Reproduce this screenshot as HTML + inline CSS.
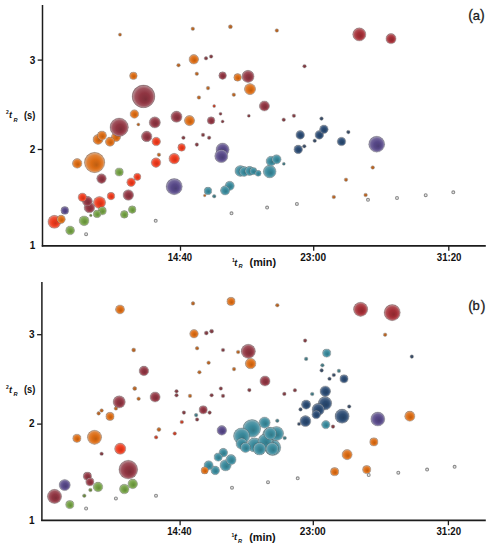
<!DOCTYPE html>
<html><head><meta charset="utf-8"><style>
html,body{margin:0;padding:0;background:#fff;}
body{width:491px;height:550px;overflow:hidden;}
svg{display:block;}
.tk{font-family:"Liberation Sans",sans-serif;font-weight:bold;font-size:10px;fill:#111;}
.ti{font-family:"Liberation Sans",sans-serif;font-weight:bold;font-size:10.2px;fill:#111;}
.lab{font-family:"Liberation Sans",sans-serif;font-size:13px;fill:#1a1a1a;stroke:#1a1a1a;stroke-width:0.3px;}
.par{font-family:"Liberation Sans",sans-serif;font-size:14px;fill:#1a1a1a;stroke:#1a1a1a;stroke-width:0.3px;}
.sup{font-family:"Liberation Sans",sans-serif;font-weight:bold;font-size:5px;fill:#111;}
.sub{font-family:"Liberation Sans",sans-serif;font-weight:bold;font-style:italic;font-size:5.6px;fill:#111;}
.tt{font-family:"Liberation Sans",sans-serif;font-weight:bold;font-style:italic;font-size:9px;fill:#111;}
</style></head><body>
<svg width="491" height="550" viewBox="0 0 491 550">
<defs><radialGradient id="gO" cx="0.5" cy="0.5" r="0.5" fx="0.6" fy="0.63">
<stop offset="0" stop-color="#bd5d11"/><stop offset="0.45" stop-color="#dc6c14"/><stop offset="0.76" stop-color="#e18135"/><stop offset="0.92" stop-color="#d7a177"/><stop offset="1" stop-color="#af7c55"/></radialGradient><radialGradient id="gM" cx="0.5" cy="0.5" r="0.5" fx="0.6" fy="0.63">
<stop offset="0" stop-color="#7c2e39"/><stop offset="0.45" stop-color="#903542"/><stop offset="0.76" stop-color="#a0515c"/><stop offset="0.92" stop-color="#b2868c"/><stop offset="1" stop-color="#8d646a"/></radialGradient><radialGradient id="gRM" cx="0.5" cy="0.5" r="0.5" fx="0.6" fy="0.63">
<stop offset="0" stop-color="#8d282e"/><stop offset="0.45" stop-color="#a42e36"/><stop offset="0.76" stop-color="#b14b52"/><stop offset="0.92" stop-color="#bc8386"/><stop offset="1" stop-color="#966164"/></radialGradient><radialGradient id="gR" cx="0.5" cy="0.5" r="0.5" fx="0.6" fy="0.63">
<stop offset="0" stop-color="#cd3218"/><stop offset="0.45" stop-color="#ee3a1c"/><stop offset="0.76" stop-color="#f0563c"/><stop offset="0.92" stop-color="#df897a"/><stop offset="1" stop-color="#b76658"/></radialGradient><radialGradient id="gG" cx="0.5" cy="0.5" r="0.5" fx="0.6" fy="0.63">
<stop offset="0" stop-color="#638a3a"/><stop offset="0.45" stop-color="#73a044"/><stop offset="0.76" stop-color="#87ad5e"/><stop offset="0.92" stop-color="#a4ba8d"/><stop offset="1" stop-color="#80946a"/></radialGradient><radialGradient id="gP" cx="0.5" cy="0.5" r="0.5" fx="0.6" fy="0.63">
<stop offset="0" stop-color="#4b3e75"/><stop offset="0.45" stop-color="#574888"/><stop offset="0.76" stop-color="#6f6299"/><stop offset="0.92" stop-color="#9690ae"/><stop offset="1" stop-color="#736c89"/></radialGradient><radialGradient id="gT" cx="0.5" cy="0.5" r="0.5" fx="0.6" fy="0.63">
<stop offset="0" stop-color="#327786"/><stop offset="0.45" stop-color="#3a8a9c"/><stop offset="0.76" stop-color="#569aaa"/><stop offset="0.92" stop-color="#89afb8"/><stop offset="1" stop-color="#668a92"/></radialGradient><radialGradient id="gN" cx="0.5" cy="0.5" r="0.5" fx="0.6" fy="0.63">
<stop offset="0" stop-color="#244062"/><stop offset="0.45" stop-color="#2a4a72"/><stop offset="0.76" stop-color="#486386"/><stop offset="0.92" stop-color="#8190a4"/><stop offset="1" stop-color="#5f6d7f"/></radialGradient><radialGradient id="gOs" cx="0.5" cy="0.5" r="0.5" fx="0.6" fy="0.63">
<stop offset="0" stop-color="#a25920"/><stop offset="0.45" stop-color="#bc6725"/><stop offset="0.76" stop-color="#c57c44"/><stop offset="0.92" stop-color="#c79e7e"/><stop offset="1" stop-color="#a07a5d"/></radialGradient><radialGradient id="gMs" cx="0.5" cy="0.5" r="0.5" fx="0.6" fy="0.63">
<stop offset="0" stop-color="#72363c"/><stop offset="0.45" stop-color="#853f46"/><stop offset="0.76" stop-color="#965a60"/><stop offset="0.92" stop-color="#ad8b8f"/><stop offset="1" stop-color="#88686b"/></radialGradient><radialGradient id="gRMs" cx="0.5" cy="0.5" r="0.5" fx="0.6" fy="0.63">
<stop offset="0" stop-color="#7f3234"/><stop offset="0.45" stop-color="#943a3d"/><stop offset="0.76" stop-color="#a35658"/><stop offset="0.92" stop-color="#b4898a"/><stop offset="1" stop-color="#8e6667"/></radialGradient><radialGradient id="gRs" cx="0.5" cy="0.5" r="0.5" fx="0.6" fy="0.63">
<stop offset="0" stop-color="#ad3a25"/><stop offset="0.45" stop-color="#c9432b"/><stop offset="0.76" stop-color="#d15d49"/><stop offset="0.92" stop-color="#cd8d81"/><stop offset="1" stop-color="#a66a5f"/></radialGradient><radialGradient id="gGs" cx="0.5" cy="0.5" r="0.5" fx="0.6" fy="0.63">
<stop offset="0" stop-color="#60783d"/><stop offset="0.45" stop-color="#708c47"/><stop offset="0.76" stop-color="#849c61"/><stop offset="0.92" stop-color="#a2b08f"/><stop offset="1" stop-color="#7e8b6c"/></radialGradient><radialGradient id="gPs" cx="0.5" cy="0.5" r="0.5" fx="0.6" fy="0.63">
<stop offset="0" stop-color="#4f4267"/><stop offset="0.45" stop-color="#5c4d78"/><stop offset="0.76" stop-color="#73668b"/><stop offset="0.92" stop-color="#9992a7"/><stop offset="1" stop-color="#756f82"/></radialGradient><radialGradient id="gTs" cx="0.5" cy="0.5" r="0.5" fx="0.6" fy="0.63">
<stop offset="0" stop-color="#3d6c74"/><stop offset="0.45" stop-color="#477d87"/><stop offset="0.76" stop-color="#618f98"/><stop offset="0.92" stop-color="#8fa9ae"/><stop offset="1" stop-color="#6c8489"/></radialGradient><radialGradient id="gNs" cx="0.5" cy="0.5" r="0.5" fx="0.6" fy="0.63">
<stop offset="0" stop-color="#344359"/><stop offset="0.45" stop-color="#3c4e68"/><stop offset="0.76" stop-color="#57677d"/><stop offset="0.92" stop-color="#8a929e"/><stop offset="1" stop-color="#676f7b"/></radialGradient></defs>
<rect width="491" height="550" fill="#ffffff"/>
<circle cx="116" cy="137" r="4.6" fill="url(#gO)" stroke="#404040" stroke-width="0.5" stroke-opacity="0.4"/>
<circle cx="143.5" cy="96.4" r="11.4" fill="url(#gM)" stroke="#404040" stroke-width="0.5" stroke-opacity="0.4"/>
<circle cx="94.6" cy="162.5" r="10.2" fill="url(#gO)" stroke="#404040" stroke-width="0.5" stroke-opacity="0.4"/>
<circle cx="119.2" cy="127.2" r="9.2" fill="url(#gM)" stroke="#404040" stroke-width="0.5" stroke-opacity="0.4"/>
<circle cx="174.2" cy="186.6" r="8.1" fill="url(#gP)" stroke="#404040" stroke-width="0.5" stroke-opacity="0.4"/>
<circle cx="376.7" cy="144.2" r="8" fill="url(#gP)" stroke="#404040" stroke-width="0.5" stroke-opacity="0.4"/>
<circle cx="359.3" cy="34.4" r="6.6" fill="url(#gRM)" stroke="#404040" stroke-width="0.5" stroke-opacity="0.4"/>
<circle cx="222.6" cy="149.6" r="6.6" fill="url(#gP)" stroke="#404040" stroke-width="0.5" stroke-opacity="0.4"/>
<circle cx="221.3" cy="156" r="6.6" fill="url(#gP)" stroke="#404040" stroke-width="0.5" stroke-opacity="0.4"/>
<circle cx="54.4" cy="221.8" r="6.5" fill="url(#gR)" stroke="#404040" stroke-width="0.5" stroke-opacity="0.4"/>
<circle cx="269.7" cy="171.5" r="6.4" fill="url(#gT)" stroke="#404040" stroke-width="0.5" stroke-opacity="0.4"/>
<circle cx="248" cy="76.4" r="6.1" fill="url(#gM)" stroke="#404040" stroke-width="0.5" stroke-opacity="0.4"/>
<circle cx="99.5" cy="202.5" r="6.1" fill="url(#gR)" stroke="#404040" stroke-width="0.5" stroke-opacity="0.4"/>
<circle cx="250" cy="89.1" r="5.6" fill="url(#gO)" stroke="#404040" stroke-width="0.5" stroke-opacity="0.4"/>
<circle cx="154.8" cy="122.4" r="5.6" fill="url(#gM)" stroke="#404040" stroke-width="0.5" stroke-opacity="0.4"/>
<circle cx="176.5" cy="116.7" r="5.6" fill="url(#gM)" stroke="#404040" stroke-width="0.5" stroke-opacity="0.4"/>
<circle cx="240.4" cy="170.9" r="5.5" fill="url(#gT)" stroke="#404040" stroke-width="0.5" stroke-opacity="0.4"/>
<circle cx="146.7" cy="136.4" r="5.3" fill="url(#gM)" stroke="#404040" stroke-width="0.5" stroke-opacity="0.4"/>
<circle cx="128.3" cy="195" r="5.3" fill="url(#gM)" stroke="#404040" stroke-width="0.5" stroke-opacity="0.4"/>
<circle cx="89.4" cy="207.5" r="5.3" fill="url(#gM)" stroke="#404040" stroke-width="0.5" stroke-opacity="0.4"/>
<circle cx="174.2" cy="158.6" r="5.3" fill="url(#gR)" stroke="#404040" stroke-width="0.5" stroke-opacity="0.4"/>
<circle cx="189.5" cy="120.6" r="5.1" fill="url(#gO)" stroke="#404040" stroke-width="0.5" stroke-opacity="0.4"/>
<circle cx="264.4" cy="106" r="5.1" fill="url(#gM)" stroke="#404040" stroke-width="0.5" stroke-opacity="0.4"/>
<circle cx="391" cy="38.7" r="5.1" fill="url(#gRM)" stroke="#404040" stroke-width="0.5" stroke-opacity="0.4"/>
<circle cx="98" cy="139.4" r="5" fill="url(#gO)" stroke="#404040" stroke-width="0.5" stroke-opacity="0.4"/>
<circle cx="87.4" cy="201.3" r="5" fill="url(#gM)" stroke="#404040" stroke-width="0.5" stroke-opacity="0.4"/>
<circle cx="84.1" cy="220.8" r="4.9" fill="url(#gG)" stroke="#404040" stroke-width="0.5" stroke-opacity="0.4"/>
<circle cx="244.1" cy="171.5" r="4.9" fill="url(#gT)" stroke="#404040" stroke-width="0.5" stroke-opacity="0.4"/>
<circle cx="271" cy="161.1" r="4.9" fill="url(#gT)" stroke="#404040" stroke-width="0.5" stroke-opacity="0.4"/>
<circle cx="77.2" cy="163.4" r="4.8" fill="url(#gO)" stroke="#404040" stroke-width="0.5" stroke-opacity="0.4"/>
<circle cx="193.8" cy="59.3" r="4.8" fill="url(#gO)" stroke="#404040" stroke-width="0.5" stroke-opacity="0.4"/>
<circle cx="101.5" cy="178.6" r="4.8" fill="url(#gM)" stroke="#404040" stroke-width="0.5" stroke-opacity="0.4"/>
<circle cx="156" cy="162.6" r="4.8" fill="url(#gR)" stroke="#404040" stroke-width="0.5" stroke-opacity="0.4"/>
<circle cx="101.9" cy="135.6" r="4.6" fill="url(#gO)" stroke="#404040" stroke-width="0.5" stroke-opacity="0.4"/>
<circle cx="110" cy="141.7" r="4.6" fill="url(#gO)" stroke="#404040" stroke-width="0.5" stroke-opacity="0.4"/>
<circle cx="249.6" cy="170.9" r="4.6" fill="url(#gT)" stroke="#404040" stroke-width="0.5" stroke-opacity="0.4"/>
<circle cx="276.5" cy="159.3" r="4.6" fill="url(#gT)" stroke="#404040" stroke-width="0.5" stroke-opacity="0.4"/>
<circle cx="229.7" cy="185.8" r="4.6" fill="url(#gT)" stroke="#404040" stroke-width="0.5" stroke-opacity="0.4"/>
<circle cx="225.1" cy="190.4" r="4.6" fill="url(#gT)" stroke="#404040" stroke-width="0.5" stroke-opacity="0.4"/>
<circle cx="70.1" cy="230.4" r="4.4" fill="url(#gG)" stroke="#404040" stroke-width="0.5" stroke-opacity="0.4"/>
<circle cx="134.4" cy="114" r="4.3" fill="url(#gO)" stroke="#404040" stroke-width="0.5" stroke-opacity="0.4"/>
<circle cx="156.2" cy="141.5" r="4.3" fill="url(#gR)" stroke="#404040" stroke-width="0.5" stroke-opacity="0.4"/>
<circle cx="131.1" cy="182.2" r="4.3" fill="url(#gR)" stroke="#404040" stroke-width="0.5" stroke-opacity="0.4"/>
<circle cx="82.4" cy="197.3" r="4.3" fill="url(#gR)" stroke="#404040" stroke-width="0.5" stroke-opacity="0.4"/>
<circle cx="300.2" cy="134.9" r="4.3" fill="url(#gN)" stroke="#404040" stroke-width="0.5" stroke-opacity="0.4"/>
<circle cx="298.2" cy="149.4" r="4.3" fill="url(#gN)" stroke="#404040" stroke-width="0.5" stroke-opacity="0.4"/>
<circle cx="319.3" cy="134.9" r="4.3" fill="url(#gN)" stroke="#404040" stroke-width="0.5" stroke-opacity="0.4"/>
<circle cx="323.9" cy="129.3" r="4.3" fill="url(#gN)" stroke="#404040" stroke-width="0.5" stroke-opacity="0.4"/>
<circle cx="341.5" cy="141.5" r="4.3" fill="url(#gN)" stroke="#404040" stroke-width="0.5" stroke-opacity="0.4"/>
<circle cx="61.1" cy="219.3" r="4.2" fill="url(#gO)" stroke="#404040" stroke-width="0.5" stroke-opacity="0.4"/>
<circle cx="119.2" cy="172" r="4.1" fill="url(#gG)" stroke="#404040" stroke-width="0.5" stroke-opacity="0.4"/>
<circle cx="102.2" cy="210.8" r="4.1" fill="url(#gG)" stroke="#404040" stroke-width="0.5" stroke-opacity="0.4"/>
<circle cx="64.8" cy="210.4" r="3.9" fill="url(#gP)" stroke="#404040" stroke-width="0.5" stroke-opacity="0.4"/>
<circle cx="133.4" cy="75.8" r="3.8" fill="url(#gO)" stroke="#404040" stroke-width="0.5" stroke-opacity="0.4"/>
<circle cx="237.6" cy="77.4" r="3.8" fill="url(#gO)" stroke="#404040" stroke-width="0.5" stroke-opacity="0.4"/>
<circle cx="222.6" cy="75.6" r="3.8" fill="url(#gM)" stroke="#404040" stroke-width="0.5" stroke-opacity="0.4"/>
<circle cx="211.1" cy="120.5" r="3.8" fill="url(#gM)" stroke="#404040" stroke-width="0.5" stroke-opacity="0.4"/>
<circle cx="111" cy="196.1" r="3.8" fill="url(#gR)" stroke="#404040" stroke-width="0.5" stroke-opacity="0.4"/>
<circle cx="181.6" cy="147.4" r="3.8" fill="url(#gR)" stroke="#404040" stroke-width="0.5" stroke-opacity="0.4"/>
<circle cx="97.1" cy="213.9" r="3.8" fill="url(#gG)" stroke="#404040" stroke-width="0.5" stroke-opacity="0.4"/>
<circle cx="132.2" cy="209.6" r="3.8" fill="url(#gG)" stroke="#404040" stroke-width="0.5" stroke-opacity="0.4"/>
<circle cx="124.3" cy="214.4" r="3.8" fill="url(#gG)" stroke="#404040" stroke-width="0.5" stroke-opacity="0.4"/>
<circle cx="208" cy="190.9" r="3.8" fill="url(#gT)" stroke="#404040" stroke-width="0.5" stroke-opacity="0.4"/>
<circle cx="253.2" cy="171.1" r="3.7" fill="url(#gT)" stroke="#404040" stroke-width="0.5" stroke-opacity="0.4"/>
<circle cx="137.3" cy="176.8" r="3.6" fill="url(#gR)" stroke="#404040" stroke-width="0.5" stroke-opacity="0.4"/>
<circle cx="258.1" cy="173.3" r="3" fill="url(#gT)" stroke="#404040" stroke-width="0.6" stroke-opacity="0.35"/>
<circle cx="230.4" cy="26.7" r="2" fill="url(#gOs)" stroke="#404040" stroke-width="0.6" stroke-opacity="0.35"/>
<circle cx="158.9" cy="154.7" r="1.8" fill="url(#gOs)" stroke="#404040" stroke-width="0.6" stroke-opacity="0.35"/>
<circle cx="192.8" cy="28.8" r="1.8" fill="url(#gOs)" stroke="#404040" stroke-width="0.6" stroke-opacity="0.35"/>
<circle cx="178.5" cy="65.2" r="1.8" fill="url(#gOs)" stroke="#404040" stroke-width="0.6" stroke-opacity="0.35"/>
<circle cx="196.8" cy="73.8" r="1.8" fill="url(#gOs)" stroke="#404040" stroke-width="0.6" stroke-opacity="0.35"/>
<circle cx="208" cy="88.1" r="1.8" fill="url(#gOs)" stroke="#404040" stroke-width="0.6" stroke-opacity="0.35"/>
<circle cx="198.9" cy="97.5" r="1.8" fill="url(#gOs)" stroke="#404040" stroke-width="0.6" stroke-opacity="0.35"/>
<circle cx="233.8" cy="94.7" r="1.8" fill="url(#gOs)" stroke="#404040" stroke-width="0.6" stroke-opacity="0.35"/>
<circle cx="276.8" cy="30.5" r="1.8" fill="url(#gOs)" stroke="#404040" stroke-width="0.6" stroke-opacity="0.35"/>
<circle cx="372.7" cy="167.5" r="1.8" fill="url(#gOs)" stroke="#404040" stroke-width="0.6" stroke-opacity="0.35"/>
<circle cx="346" cy="179.7" r="1.8" fill="url(#gOs)" stroke="#404040" stroke-width="0.6" stroke-opacity="0.35"/>
<circle cx="333.8" cy="197" r="1.8" fill="url(#gOs)" stroke="#404040" stroke-width="0.6" stroke-opacity="0.35"/>
<circle cx="365.6" cy="195" r="1.8" fill="url(#gOs)" stroke="#404040" stroke-width="0.6" stroke-opacity="0.35"/>
<circle cx="206" cy="58.3" r="1.8" fill="url(#gMs)" stroke="#404040" stroke-width="0.6" stroke-opacity="0.35"/>
<circle cx="211.1" cy="56.5" r="1.8" fill="url(#gMs)" stroke="#404040" stroke-width="0.6" stroke-opacity="0.35"/>
<circle cx="183.4" cy="137.7" r="1.8" fill="url(#gMs)" stroke="#404040" stroke-width="0.6" stroke-opacity="0.35"/>
<circle cx="203" cy="134.9" r="1.8" fill="url(#gMs)" stroke="#404040" stroke-width="0.6" stroke-opacity="0.35"/>
<circle cx="209.1" cy="137.7" r="1.8" fill="url(#gMs)" stroke="#404040" stroke-width="0.6" stroke-opacity="0.35"/>
<circle cx="196.8" cy="144.6" r="1.8" fill="url(#gMs)" stroke="#404040" stroke-width="0.6" stroke-opacity="0.35"/>
<circle cx="304.5" cy="66.2" r="1.8" fill="url(#gMs)" stroke="#404040" stroke-width="0.6" stroke-opacity="0.35"/>
<circle cx="283.7" cy="119.7" r="1.8" fill="url(#gMs)" stroke="#404040" stroke-width="0.6" stroke-opacity="0.35"/>
<circle cx="293.9" cy="115.8" r="1.8" fill="url(#gMs)" stroke="#404040" stroke-width="0.6" stroke-opacity="0.35"/>
<circle cx="214.2" cy="196.2" r="1.8" fill="url(#gTs)" stroke="#404040" stroke-width="0.6" stroke-opacity="0.35"/>
<circle cx="304.3" cy="146.3" r="1.8" fill="url(#gNs)" stroke="#404040" stroke-width="0.6" stroke-opacity="0.35"/>
<circle cx="321.5" cy="118.6" r="1.8" fill="url(#gNs)" stroke="#404040" stroke-width="0.6" stroke-opacity="0.35"/>
<circle cx="314.7" cy="140.7" r="1.8" fill="url(#gNs)" stroke="#404040" stroke-width="0.6" stroke-opacity="0.35"/>
<circle cx="348.3" cy="132.1" r="1.8" fill="url(#gNs)" stroke="#404040" stroke-width="0.6" stroke-opacity="0.35"/>
<circle cx="120" cy="34.6" r="1.6" fill="url(#gOs)" stroke="#404040" stroke-width="0.6" stroke-opacity="0.35"/>
<circle cx="138.3" cy="124.4" r="1.5" fill="url(#gOs)" stroke="#404040" stroke-width="0.6" stroke-opacity="0.35"/>
<circle cx="220.5" cy="113.8" r="1.5" fill="url(#gMs)" stroke="#404040" stroke-width="0.6" stroke-opacity="0.35"/>
<circle cx="248.8" cy="115.8" r="1.5" fill="url(#gMs)" stroke="#404040" stroke-width="0.6" stroke-opacity="0.35"/>
<circle cx="222.6" cy="121.4" r="1.5" fill="url(#gMs)" stroke="#404040" stroke-width="0.6" stroke-opacity="0.35"/>
<circle cx="214.2" cy="106" r="1.5" fill="url(#gRs)" stroke="#404040" stroke-width="0.6" stroke-opacity="0.35"/>
<circle cx="283.8" cy="163.8" r="1.5" fill="url(#gTs)" stroke="#404040" stroke-width="0.6" stroke-opacity="0.35"/>
<circle cx="204.7" cy="195.5" r="1.3" fill="url(#gOs)" stroke="#404040" stroke-width="0.6" stroke-opacity="0.35"/>
<circle cx="90.8" cy="215.4" r="1.3" fill="url(#gGs)" stroke="#404040" stroke-width="0.6" stroke-opacity="0.35"/>
<circle cx="86.1" cy="234.2" r="1.45" fill="#e8e8e8" stroke="#8c8c8c" stroke-width="1.1"/>
<circle cx="155.7" cy="220.8" r="1.45" fill="#e8e8e8" stroke="#8c8c8c" stroke-width="1.1"/>
<circle cx="231.5" cy="213.3" r="1.45" fill="#e8e8e8" stroke="#8c8c8c" stroke-width="1.1"/>
<circle cx="267.1" cy="207.6" r="1.45" fill="#e8e8e8" stroke="#8c8c8c" stroke-width="1.1"/>
<circle cx="296.9" cy="203.9" r="1.45" fill="#e8e8e8" stroke="#8c8c8c" stroke-width="1.1"/>
<circle cx="368" cy="199.8" r="1.45" fill="#e8e8e8" stroke="#8c8c8c" stroke-width="1.1"/>
<circle cx="397" cy="198" r="1.45" fill="#e8e8e8" stroke="#8c8c8c" stroke-width="1.1"/>
<circle cx="425.7" cy="195.2" r="1.45" fill="#e8e8e8" stroke="#8c8c8c" stroke-width="1.1"/>
<circle cx="453.3" cy="192.3" r="1.45" fill="#e8e8e8" stroke="#8c8c8c" stroke-width="1.1"/>
<circle cx="128.3" cy="469.6" r="9.4" fill="url(#gM)" stroke="#404040" stroke-width="0.5" stroke-opacity="0.4"/>
<circle cx="251.8" cy="428.4" r="8.9" fill="url(#gT)" stroke="#404040" stroke-width="0.5" stroke-opacity="0.4"/>
<circle cx="392.2" cy="312.6" r="8.1" fill="url(#gRM)" stroke="#404040" stroke-width="0.5" stroke-opacity="0.4"/>
<circle cx="241.6" cy="436" r="8.1" fill="url(#gT)" stroke="#404040" stroke-width="0.5" stroke-opacity="0.4"/>
<circle cx="272.7" cy="447.5" r="8.1" fill="url(#gT)" stroke="#404040" stroke-width="0.5" stroke-opacity="0.4"/>
<circle cx="265.8" cy="442.4" r="7.6" fill="url(#gT)" stroke="#404040" stroke-width="0.5" stroke-opacity="0.4"/>
<circle cx="94.5" cy="437.3" r="7.1" fill="url(#gO)" stroke="#404040" stroke-width="0.5" stroke-opacity="0.4"/>
<circle cx="54.5" cy="496.4" r="7.1" fill="url(#gM)" stroke="#404040" stroke-width="0.5" stroke-opacity="0.4"/>
<circle cx="248.3" cy="351.3" r="7.1" fill="url(#gM)" stroke="#404040" stroke-width="0.5" stroke-opacity="0.4"/>
<circle cx="360.6" cy="309.3" r="7.1" fill="url(#gRM)" stroke="#404040" stroke-width="0.5" stroke-opacity="0.4"/>
<circle cx="269.7" cy="434.7" r="7.1" fill="url(#gT)" stroke="#404040" stroke-width="0.5" stroke-opacity="0.4"/>
<circle cx="254.4" cy="444.9" r="7.1" fill="url(#gT)" stroke="#404040" stroke-width="0.5" stroke-opacity="0.4"/>
<circle cx="276.5" cy="433.5" r="7.1" fill="url(#gT)" stroke="#404040" stroke-width="0.5" stroke-opacity="0.4"/>
<circle cx="265.1" cy="441.1" r="7.1" fill="url(#gT)" stroke="#404040" stroke-width="0.5" stroke-opacity="0.4"/>
<circle cx="342.1" cy="416.2" r="7.1" fill="url(#gN)" stroke="#404040" stroke-width="0.5" stroke-opacity="0.4"/>
<circle cx="377.8" cy="419" r="7" fill="url(#gP)" stroke="#404040" stroke-width="0.5" stroke-opacity="0.4"/>
<circle cx="325" cy="403.3" r="6.7" fill="url(#gN)" stroke="#404040" stroke-width="0.5" stroke-opacity="0.4"/>
<circle cx="272.2" cy="448.7" r="6.3" fill="url(#gT)" stroke="#404040" stroke-width="0.5" stroke-opacity="0.4"/>
<circle cx="259.5" cy="448.7" r="6.3" fill="url(#gT)" stroke="#404040" stroke-width="0.5" stroke-opacity="0.4"/>
<circle cx="270.2" cy="433.5" r="6.3" fill="url(#gT)" stroke="#404040" stroke-width="0.5" stroke-opacity="0.4"/>
<circle cx="119.2" cy="401.9" r="6.1" fill="url(#gM)" stroke="#404040" stroke-width="0.5" stroke-opacity="0.4"/>
<circle cx="318.2" cy="409.4" r="6.1" fill="url(#gN)" stroke="#404040" stroke-width="0.5" stroke-opacity="0.4"/>
<circle cx="120.2" cy="448.7" r="5.6" fill="url(#gR)" stroke="#404040" stroke-width="0.5" stroke-opacity="0.4"/>
<circle cx="64.7" cy="485" r="5.6" fill="url(#gP)" stroke="#404040" stroke-width="0.5" stroke-opacity="0.4"/>
<circle cx="264.6" cy="422.6" r="5.6" fill="url(#gT)" stroke="#404040" stroke-width="0.5" stroke-opacity="0.4"/>
<circle cx="241.6" cy="443.6" r="5.6" fill="url(#gT)" stroke="#404040" stroke-width="0.5" stroke-opacity="0.4"/>
<circle cx="225.6" cy="465.3" r="5.6" fill="url(#gT)" stroke="#404040" stroke-width="0.5" stroke-opacity="0.4"/>
<circle cx="305.4" cy="421.1" r="5.5" fill="url(#gN)" stroke="#404040" stroke-width="0.5" stroke-opacity="0.4"/>
<circle cx="250.6" cy="363.5" r="5.3" fill="url(#gO)" stroke="#404040" stroke-width="0.5" stroke-opacity="0.4"/>
<circle cx="325.3" cy="391.2" r="5.3" fill="url(#gN)" stroke="#404040" stroke-width="0.5" stroke-opacity="0.4"/>
<circle cx="347.1" cy="454.6" r="5.1" fill="url(#gO)" stroke="#404040" stroke-width="0.5" stroke-opacity="0.4"/>
<circle cx="409.8" cy="416.2" r="5.1" fill="url(#gO)" stroke="#404040" stroke-width="0.5" stroke-opacity="0.4"/>
<circle cx="155.1" cy="397" r="5.1" fill="url(#gM)" stroke="#404040" stroke-width="0.5" stroke-opacity="0.4"/>
<circle cx="265" cy="381" r="5.1" fill="url(#gM)" stroke="#404040" stroke-width="0.5" stroke-opacity="0.4"/>
<circle cx="245.5" cy="447.5" r="5.1" fill="url(#gT)" stroke="#404040" stroke-width="0.5" stroke-opacity="0.4"/>
<circle cx="231" cy="459.7" r="5.1" fill="url(#gT)" stroke="#404040" stroke-width="0.5" stroke-opacity="0.4"/>
<circle cx="143.9" cy="370.9" r="4.8" fill="url(#gM)" stroke="#404040" stroke-width="0.5" stroke-opacity="0.4"/>
<circle cx="98" cy="486.9" r="4.8" fill="url(#gG)" stroke="#404040" stroke-width="0.5" stroke-opacity="0.4"/>
<circle cx="132.7" cy="483.9" r="4.8" fill="url(#gG)" stroke="#404040" stroke-width="0.5" stroke-opacity="0.4"/>
<circle cx="124.3" cy="489" r="4.8" fill="url(#gG)" stroke="#404040" stroke-width="0.5" stroke-opacity="0.4"/>
<circle cx="221.8" cy="430.4" r="4.8" fill="url(#gP)" stroke="#404040" stroke-width="0.5" stroke-opacity="0.4"/>
<circle cx="208.6" cy="465.3" r="4.6" fill="url(#gT)" stroke="#404040" stroke-width="0.5" stroke-opacity="0.4"/>
<circle cx="306.1" cy="404.6" r="4.6" fill="url(#gN)" stroke="#404040" stroke-width="0.5" stroke-opacity="0.4"/>
<circle cx="120" cy="309.4" r="4.5" fill="url(#gO)" stroke="#404040" stroke-width="0.5" stroke-opacity="0.4"/>
<circle cx="194" cy="333.7" r="4.3" fill="url(#gO)" stroke="#404040" stroke-width="0.5" stroke-opacity="0.4"/>
<circle cx="223.3" cy="452.6" r="4.3" fill="url(#gT)" stroke="#404040" stroke-width="0.5" stroke-opacity="0.4"/>
<circle cx="215.2" cy="470.4" r="4.3" fill="url(#gT)" stroke="#404040" stroke-width="0.5" stroke-opacity="0.4"/>
<circle cx="316.2" cy="414.5" r="4.3" fill="url(#gN)" stroke="#404040" stroke-width="0.5" stroke-opacity="0.4"/>
<circle cx="325.8" cy="424.6" r="4.2" fill="url(#gT)" stroke="#404040" stroke-width="0.5" stroke-opacity="0.4"/>
<circle cx="110" cy="416.4" r="4.1" fill="url(#gO)" stroke="#404040" stroke-width="0.5" stroke-opacity="0.4"/>
<circle cx="76.9" cy="438.3" r="4.1" fill="url(#gO)" stroke="#404040" stroke-width="0.5" stroke-opacity="0.4"/>
<circle cx="231" cy="301.4" r="4.1" fill="url(#gO)" stroke="#404040" stroke-width="0.5" stroke-opacity="0.4"/>
<circle cx="373.85" cy="441.9" r="4.1" fill="url(#gO)" stroke="#404040" stroke-width="0.5" stroke-opacity="0.4"/>
<circle cx="334.6" cy="471.7" r="4.1" fill="url(#gO)" stroke="#404040" stroke-width="0.5" stroke-opacity="0.4"/>
<circle cx="366.7" cy="469.6" r="4.1" fill="url(#gO)" stroke="#404040" stroke-width="0.5" stroke-opacity="0.4"/>
<circle cx="87.4" cy="476.2" r="4.1" fill="url(#gM)" stroke="#404040" stroke-width="0.5" stroke-opacity="0.4"/>
<circle cx="89.9" cy="481.8" r="4.1" fill="url(#gM)" stroke="#404040" stroke-width="0.5" stroke-opacity="0.4"/>
<circle cx="203.2" cy="409.8" r="4.1" fill="url(#gM)" stroke="#404040" stroke-width="0.5" stroke-opacity="0.4"/>
<circle cx="69.8" cy="504.6" r="4.1" fill="url(#gG)" stroke="#404040" stroke-width="0.5" stroke-opacity="0.4"/>
<circle cx="218.2" cy="457.1" r="4.1" fill="url(#gT)" stroke="#404040" stroke-width="0.5" stroke-opacity="0.4"/>
<circle cx="326.7" cy="353.1" r="4.1" fill="url(#gT)" stroke="#404040" stroke-width="0.5" stroke-opacity="0.4"/>
<circle cx="344" cy="378.8" r="4.1" fill="url(#gN)" stroke="#404040" stroke-width="0.5" stroke-opacity="0.4"/>
<circle cx="204.7" cy="470.4" r="3.6" fill="url(#gO)" stroke="#404040" stroke-width="0.5" stroke-opacity="0.4"/>
<circle cx="133.7" cy="350" r="2" fill="url(#gOs)" stroke="#404040" stroke-width="0.6" stroke-opacity="0.35"/>
<circle cx="134.7" cy="388.5" r="2" fill="url(#gOs)" stroke="#404040" stroke-width="0.6" stroke-opacity="0.35"/>
<circle cx="158.9" cy="429.5" r="2" fill="url(#gOs)" stroke="#404040" stroke-width="0.6" stroke-opacity="0.35"/>
<circle cx="206.3" cy="333" r="2" fill="url(#gMs)" stroke="#404040" stroke-width="0.6" stroke-opacity="0.35"/>
<circle cx="211.6" cy="331.2" r="2" fill="url(#gMs)" stroke="#404040" stroke-width="0.6" stroke-opacity="0.35"/>
<circle cx="138.6" cy="398.7" r="1.8" fill="url(#gOs)" stroke="#404040" stroke-width="0.6" stroke-opacity="0.35"/>
<circle cx="115.9" cy="408.5" r="1.8" fill="url(#gOs)" stroke="#404040" stroke-width="0.6" stroke-opacity="0.35"/>
<circle cx="101.6" cy="410.5" r="1.8" fill="url(#gOs)" stroke="#404040" stroke-width="0.6" stroke-opacity="0.35"/>
<circle cx="98.6" cy="413.4" r="1.8" fill="url(#gOs)" stroke="#404040" stroke-width="0.6" stroke-opacity="0.35"/>
<circle cx="193" cy="303.4" r="1.8" fill="url(#gOs)" stroke="#404040" stroke-width="0.6" stroke-opacity="0.35"/>
<circle cx="197.1" cy="348.2" r="1.8" fill="url(#gOs)" stroke="#404040" stroke-width="0.6" stroke-opacity="0.35"/>
<circle cx="238.1" cy="352" r="1.8" fill="url(#gOs)" stroke="#404040" stroke-width="0.6" stroke-opacity="0.35"/>
<circle cx="208.6" cy="362.7" r="1.8" fill="url(#gOs)" stroke="#404040" stroke-width="0.6" stroke-opacity="0.35"/>
<circle cx="199.4" cy="372.2" r="1.8" fill="url(#gOs)" stroke="#404040" stroke-width="0.6" stroke-opacity="0.35"/>
<circle cx="234" cy="369.1" r="1.8" fill="url(#gOs)" stroke="#404040" stroke-width="0.6" stroke-opacity="0.35"/>
<circle cx="190" cy="395.9" r="1.8" fill="url(#gOs)" stroke="#404040" stroke-width="0.6" stroke-opacity="0.35"/>
<circle cx="277.3" cy="305.2" r="1.8" fill="url(#gOs)" stroke="#404040" stroke-width="0.6" stroke-opacity="0.35"/>
<circle cx="385.1" cy="334.7" r="1.8" fill="url(#gOs)" stroke="#404040" stroke-width="0.6" stroke-opacity="0.35"/>
<circle cx="101.6" cy="453.8" r="1.8" fill="url(#gMs)" stroke="#404040" stroke-width="0.6" stroke-opacity="0.35"/>
<circle cx="223" cy="350" r="1.8" fill="url(#gMs)" stroke="#404040" stroke-width="0.6" stroke-opacity="0.35"/>
<circle cx="176.5" cy="391.3" r="1.8" fill="url(#gMs)" stroke="#404040" stroke-width="0.6" stroke-opacity="0.35"/>
<circle cx="176.5" cy="395.3" r="1.8" fill="url(#gMs)" stroke="#404040" stroke-width="0.6" stroke-opacity="0.35"/>
<circle cx="211.6" cy="395.2" r="1.8" fill="url(#gMs)" stroke="#404040" stroke-width="0.6" stroke-opacity="0.35"/>
<circle cx="220.8" cy="388.5" r="1.8" fill="url(#gMs)" stroke="#404040" stroke-width="0.6" stroke-opacity="0.35"/>
<circle cx="223" cy="395.9" r="1.8" fill="url(#gMs)" stroke="#404040" stroke-width="0.6" stroke-opacity="0.35"/>
<circle cx="249.3" cy="390.1" r="1.8" fill="url(#gMs)" stroke="#404040" stroke-width="0.6" stroke-opacity="0.35"/>
<circle cx="183.9" cy="412.6" r="1.8" fill="url(#gMs)" stroke="#404040" stroke-width="0.6" stroke-opacity="0.35"/>
<circle cx="209.6" cy="412.6" r="1.8" fill="url(#gMs)" stroke="#404040" stroke-width="0.6" stroke-opacity="0.35"/>
<circle cx="197.1" cy="419.5" r="1.8" fill="url(#gMs)" stroke="#404040" stroke-width="0.6" stroke-opacity="0.35"/>
<circle cx="305.1" cy="340.6" r="1.8" fill="url(#gMs)" stroke="#404040" stroke-width="0.6" stroke-opacity="0.35"/>
<circle cx="284.3" cy="393.9" r="1.8" fill="url(#gMs)" stroke="#404040" stroke-width="0.6" stroke-opacity="0.35"/>
<circle cx="294.9" cy="390.2" r="1.8" fill="url(#gMs)" stroke="#404040" stroke-width="0.6" stroke-opacity="0.35"/>
<circle cx="333" cy="426.6" r="1.8" fill="url(#gMs)" stroke="#404040" stroke-width="0.6" stroke-opacity="0.35"/>
<circle cx="156.1" cy="437.3" r="1.8" fill="url(#gRs)" stroke="#404040" stroke-width="0.6" stroke-opacity="0.35"/>
<circle cx="181.8" cy="422" r="1.8" fill="url(#gRs)" stroke="#404040" stroke-width="0.6" stroke-opacity="0.35"/>
<circle cx="174.7" cy="433.5" r="1.8" fill="url(#gRs)" stroke="#404040" stroke-width="0.6" stroke-opacity="0.35"/>
<circle cx="90.4" cy="490" r="1.8" fill="url(#gGs)" stroke="#404040" stroke-width="0.6" stroke-opacity="0.35"/>
<circle cx="84.3" cy="495.7" r="1.8" fill="url(#gGs)" stroke="#404040" stroke-width="0.6" stroke-opacity="0.35"/>
<circle cx="277.3" cy="420.7" r="1.8" fill="url(#gTs)" stroke="#404040" stroke-width="0.6" stroke-opacity="0.35"/>
<circle cx="284.7" cy="438" r="1.8" fill="url(#gTs)" stroke="#404040" stroke-width="0.6" stroke-opacity="0.35"/>
<circle cx="196.1" cy="415.1" r="1.8" fill="url(#gTs)" stroke="#404040" stroke-width="0.6" stroke-opacity="0.35"/>
<circle cx="306.1" cy="358.9" r="1.8" fill="url(#gTs)" stroke="#404040" stroke-width="0.6" stroke-opacity="0.35"/>
<circle cx="322.4" cy="365.3" r="1.8" fill="url(#gTs)" stroke="#404040" stroke-width="0.6" stroke-opacity="0.35"/>
<circle cx="338.9" cy="370.9" r="1.8" fill="url(#gTs)" stroke="#404040" stroke-width="0.6" stroke-opacity="0.35"/>
<circle cx="312.2" cy="394" r="1.8" fill="url(#gTs)" stroke="#404040" stroke-width="0.6" stroke-opacity="0.35"/>
<circle cx="321.6" cy="370.4" r="1.8" fill="url(#gNs)" stroke="#404040" stroke-width="0.6" stroke-opacity="0.35"/>
<circle cx="333.8" cy="375" r="1.8" fill="url(#gNs)" stroke="#404040" stroke-width="0.6" stroke-opacity="0.35"/>
<circle cx="329.5" cy="378.8" r="1.8" fill="url(#gNs)" stroke="#404040" stroke-width="0.6" stroke-opacity="0.35"/>
<circle cx="300.5" cy="409.4" r="1.8" fill="url(#gNs)" stroke="#404040" stroke-width="0.6" stroke-opacity="0.35"/>
<circle cx="349.2" cy="406.5" r="1.8" fill="url(#gNs)" stroke="#404040" stroke-width="0.6" stroke-opacity="0.35"/>
<circle cx="411.8" cy="356.6" r="1.8" fill="url(#gNs)" stroke="#404040" stroke-width="0.6" stroke-opacity="0.35"/>
<circle cx="299" cy="423.9" r="1.7" fill="url(#gNs)" stroke="#404040" stroke-width="0.6" stroke-opacity="0.35"/>
<circle cx="86.1" cy="508.5" r="1.45" fill="#e8e8e8" stroke="#8c8c8c" stroke-width="1.1"/>
<circle cx="115.9" cy="498.4" r="1.45" fill="#e8e8e8" stroke="#8c8c8c" stroke-width="1.1"/>
<circle cx="156" cy="495.7" r="1.45" fill="#e8e8e8" stroke="#8c8c8c" stroke-width="1.1"/>
<circle cx="232" cy="487.7" r="1.45" fill="#e8e8e8" stroke="#8c8c8c" stroke-width="1.1"/>
<circle cx="268" cy="482.2" r="1.45" fill="#e8e8e8" stroke="#8c8c8c" stroke-width="1.1"/>
<circle cx="297.7" cy="478.3" r="1.45" fill="#e8e8e8" stroke="#8c8c8c" stroke-width="1.1"/>
<circle cx="368.7" cy="475" r="1.45" fill="#e8e8e8" stroke="#8c8c8c" stroke-width="1.1"/>
<circle cx="398.3" cy="472.7" r="1.45" fill="#e8e8e8" stroke="#8c8c8c" stroke-width="1.1"/>
<circle cx="427.1" cy="469.6" r="1.45" fill="#e8e8e8" stroke="#8c8c8c" stroke-width="1.1"/>
<circle cx="454.6" cy="466.8" r="1.45" fill="#e8e8e8" stroke="#8c8c8c" stroke-width="1.1"/>
<line x1="42.5" y1="5" x2="42.5" y2="246.60000000000002" stroke="#1c1c1c" stroke-width="1.5"/>
<line x1="41.75" y1="245.8" x2="485.8" y2="245.8" stroke="#1c1c1c" stroke-width="1.7"/>
<line x1="41.9" y1="282" x2="41.9" y2="521.0999999999999" stroke="#1c1c1c" stroke-width="1.5"/>
<line x1="41.15" y1="520.3" x2="485.8" y2="520.3" stroke="#1c1c1c" stroke-width="1.7"/>
<line x1="37.7" y1="60.1" x2="42.5" y2="60.1" stroke="#1c1c1c" stroke-width="1.3"/>
<text x="35.2" y="63.7" text-anchor="end" class="tk">3</text>
<line x1="37.7" y1="149.5" x2="42.5" y2="149.5" stroke="#1c1c1c" stroke-width="1.3"/>
<text x="35.2" y="152.8" text-anchor="end" class="tk">2</text>
<text x="35.2" y="249.3" text-anchor="end" class="tk">1</text>
<line x1="180.5" y1="245.8" x2="180.5" y2="250.70000000000002" stroke="#1c1c1c" stroke-width="1.3"/>
<text x="167.7" y="260.5" class="tk" textLength="24.3" lengthAdjust="spacingAndGlyphs">14:40</text>
<line x1="313.7" y1="245.8" x2="313.7" y2="250.70000000000002" stroke="#1c1c1c" stroke-width="1.3"/>
<text x="300.2" y="260.5" class="tk" textLength="25.8" lengthAdjust="spacingAndGlyphs">23:00</text>
<line x1="448.8" y1="245.8" x2="448.8" y2="250.70000000000002" stroke="#1c1c1c" stroke-width="1.3"/>
<text x="436.8" y="260.5" class="tk" textLength="24.7" lengthAdjust="spacingAndGlyphs">31:20</text>
<text x="6.0" y="114.1" class="sup">2</text>
<text x="9.0" y="118.4" class="tt">t</text>
<text x="13.4" y="121.5" class="sub">R</text>
<text x="24.0" y="118.6" class="ti" textLength="11.4" lengthAdjust="spacingAndGlyphs">(s)</text>
<text x="231.9" y="262.2" class="sup">1</text>
<text x="234.3" y="265.8" class="tt">t</text>
<text x="238.4" y="267.9" class="sub">R</text>
<text x="249.6" y="265.9" class="ti" textLength="26.5" lengthAdjust="spacingAndGlyphs">(min)</text>
<line x1="37.1" y1="334.70000000000005" x2="41.9" y2="334.70000000000005" stroke="#1c1c1c" stroke-width="1.3"/>
<text x="34.6" y="338.3" text-anchor="end" class="tk">3</text>
<line x1="37.1" y1="424.1" x2="41.9" y2="424.1" stroke="#1c1c1c" stroke-width="1.3"/>
<text x="34.6" y="427.40000000000003" text-anchor="end" class="tk">2</text>
<text x="34.6" y="523.8" text-anchor="end" class="tk">1</text>
<line x1="180.1" y1="520.3" x2="180.1" y2="525.1999999999999" stroke="#1c1c1c" stroke-width="1.3"/>
<text x="167.29999999999998" y="535.1" class="tk" textLength="24.3" lengthAdjust="spacingAndGlyphs">14:40</text>
<line x1="313.3" y1="520.3" x2="313.3" y2="525.1999999999999" stroke="#1c1c1c" stroke-width="1.3"/>
<text x="299.8" y="535.1" class="tk" textLength="25.8" lengthAdjust="spacingAndGlyphs">23:00</text>
<line x1="448.40000000000003" y1="520.3" x2="448.40000000000003" y2="525.1999999999999" stroke="#1c1c1c" stroke-width="1.3"/>
<text x="436.40000000000003" y="535.1" class="tk" textLength="24.7" lengthAdjust="spacingAndGlyphs">31:20</text>
<text x="6.0" y="388.70000000000005" class="sup">2</text>
<text x="9.0" y="393.0" class="tt">t</text>
<text x="13.4" y="396.1" class="sub">R</text>
<text x="24.0" y="393.20000000000005" class="ti" textLength="11.4" lengthAdjust="spacingAndGlyphs">(s)</text>
<text x="231.5" y="536.8" class="sup">1</text>
<text x="233.9" y="540.4000000000001" class="tt">t</text>
<text x="238.0" y="542.5" class="sub">R</text>
<text x="249.2" y="540.5" class="ti" textLength="26.5" lengthAdjust="spacingAndGlyphs">(min)</text>
<text x="468.3" y="19.5" class="par">(</text><text x="472.8" y="20.1" class="lab">a</text><text x="480.1" y="19.5" class="par">)</text>
<text x="468.3" y="311.0" class="par">(</text><text x="472.6" y="309.8" class="lab">b</text><text x="480.8" y="311.0" class="par">)</text>
</svg>
</body></html>
